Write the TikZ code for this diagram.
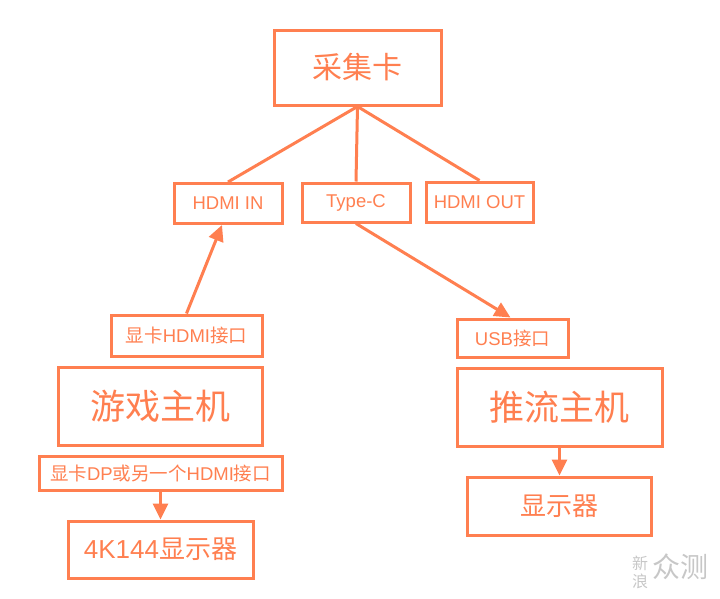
\documentclass[tikz,border=0pt]{standalone}
\usepackage{fontspec}
\setmainfont{Liberation Sans}
\newfontfamily\cjk{Noto Sans CJK SC}
\usetikzlibrary{arrows.meta}
\definecolor{coral}{HTML}{FF7F50}
\tikzset{
  box/.style={draw=coral, line width=3pt, text=coral, inner sep=0pt},
  small/.style={font=\fontsize{18.5}{20}\selectfont},
  mid/.style={font=\fontsize{26}{28}\selectfont},
  big/.style={font=\fontsize{35}{38}\selectfont},
  conn/.style={draw=coral, line width=3pt},
  arr/.style={conn, -{Triangle[length=16pt,width=15pt]}}
}
\begin{document}
\begin{tikzpicture}[x=1pt,y=-1pt]
\useasboundingbox (0,0) rectangle (720,598);
\node[box, minimum width=167pt, minimum height=75pt, font=\fontsize{30}{32}\selectfont] (cap) at (357.5,67.5) {\cjk 采集卡};
\node[box, small, minimum width=108pt, minimum height=40pt] (hin) at (228,203.5) {HDMI IN};
\node[box, small, minimum width=108pt, minimum height=39pt] (tc) at (356,202.5) {Type-C};
\node[box, small, minimum width=107pt, minimum height=40pt] (hout) at (479.5,202) {HDMI OUT};
\node[box, small, minimum width=151pt, minimum height=41pt] (ghdmi) at (186.5,335.5) {{\cjk 显卡}HDMI{\cjk 接口}};
\node[box, big, minimum width=204pt, minimum height=78pt] (game) at (160,406) {\cjk 游戏主机};
\node[box, small, minimum width=243pt, minimum height=34pt] (gdp) at (160.5,473) {{\cjk 显卡}DP{\cjk 或另一个}HDMI{\cjk 接口}};
\node[box, mid, minimum width=185pt, minimum height=57pt] (m4k) at (160.5,549.5) {4K144{\cjk 显示器}};
\node[box, small, minimum width=111pt, minimum height=38pt] (usb) at (512.5,338) {USB{\cjk 接口}};
\node[box, big, minimum width=205pt, minimum height=78pt] (push) at (559.5,407) {\cjk 推流主机};
\node[box, mid, minimum width=184pt, minimum height=58pt] (mon) at (559.5,506) {\cjk 显示器};
\draw[conn] (cap.south) -- (hin.north);
\draw[conn] (cap.south) -- (tc.north);
\draw[conn] (cap.south) -- (hout.north);
\draw[arr] (ghdmi.north) -- ([xshift=-6pt]hin.south);
\draw[arr] (tc.south) -- ([xshift=-2pt]usb.north);
\draw[arr] (gdp.south) -- (m4k.north);
\draw[arr] (push.south) -- (mon.north);
\node[text=black!22, font=\cjk\fontsize{16}{18}\selectfont, align=center, inner sep=0pt] (wm1) at (640,572) {新\\浪};
\node[text=black!22, font=\cjk\fontsize{28}{30}\selectfont, inner sep=0pt, anchor=west] (wm2) at (652,567) {众测};
\end{tikzpicture}
\end{document}
